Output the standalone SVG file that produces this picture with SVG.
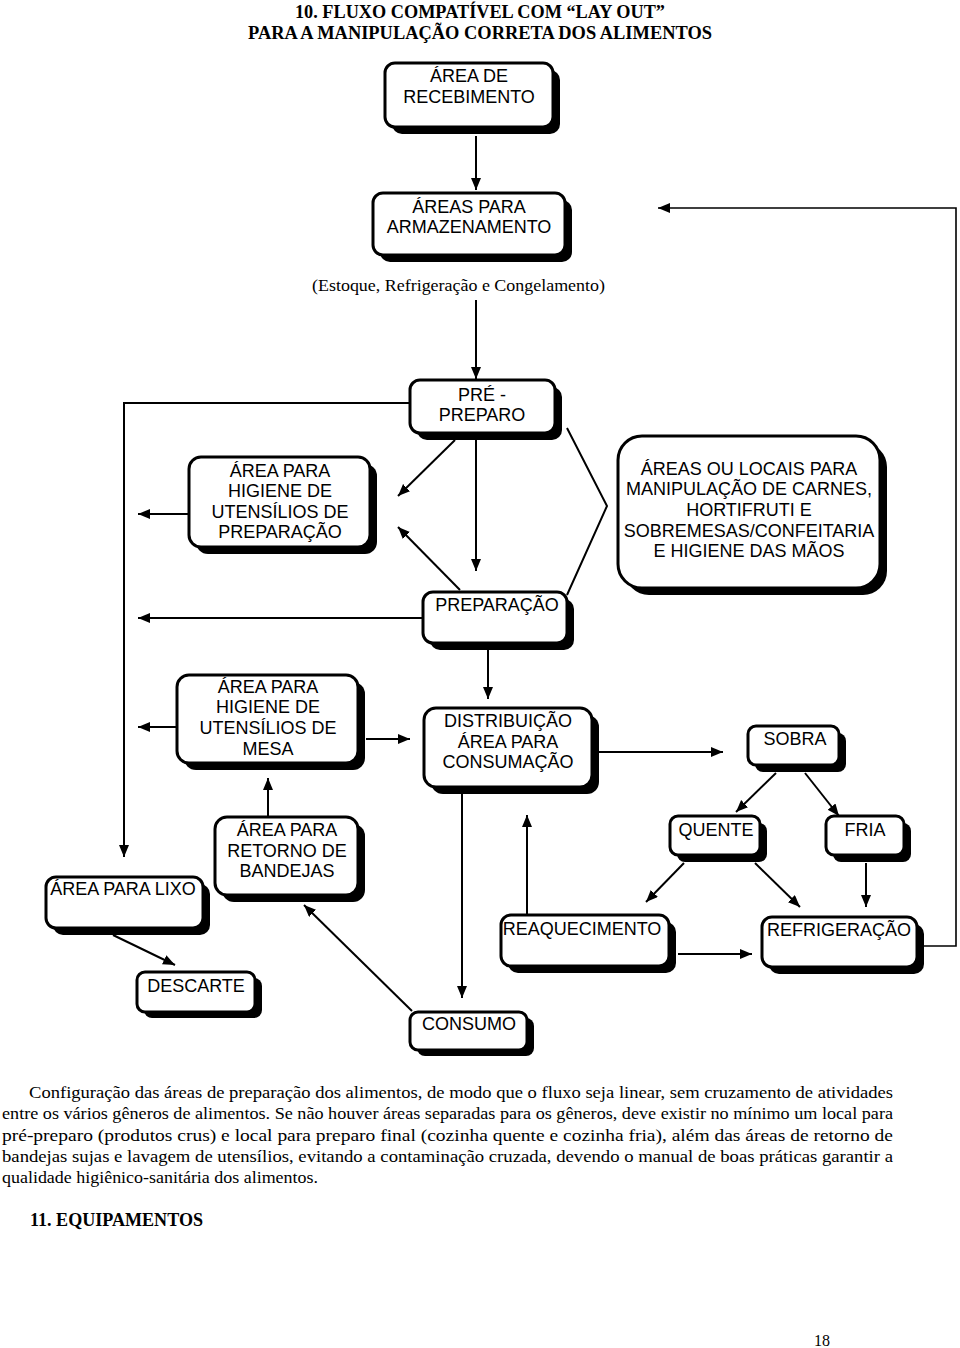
<svg xmlns="http://www.w3.org/2000/svg" width="960" height="1348" viewBox="0 0 960 1348">
<defs>
<marker id="ah" markerUnits="userSpaceOnUse" markerWidth="13" markerHeight="11" refX="12" refY="5" orient="auto">
<path d="M0,0 L12,5 L0,10 z" fill="#000"/>
</marker>
<style>
.sh{fill:#000}
.bx{fill:#fff;stroke:#000;stroke-width:3}
.t{font-family:"Liberation Sans",Arial,sans-serif;font-size:18px;fill:#000;text-anchor:middle}
.c{fill:none;stroke:#000;stroke-width:2}
.a{marker-end:url(#ah)}
.s{font-family:"Liberation Serif","Times New Roman",serif;fill:#000}
</style>
</defs>
<rect width="960" height="1348" fill="#fff"/>
<g id="title">
<text class="s" x="480" y="18" font-size="19" font-weight="bold" text-anchor="middle" textLength="370" lengthAdjust="spacingAndGlyphs">10. FLUXO COMPATÍVEL COM “LAY OUT”</text>
<text class="s" x="480" y="39" font-size="19" font-weight="bold" text-anchor="middle" textLength="464" lengthAdjust="spacingAndGlyphs">PARA A MANIPULAÇÃO CORRETA DOS ALIMENTOS</text>
</g>
<g id="connectors">
<line class="c a" x1="476" y1="136" x2="476" y2="190"/>
<line class="c a" x1="476" y1="300" x2="476" y2="379"/>
<polyline class="c a" points="410,403 124,403 124,857"/>
<line class="c a" x1="455" y1="440" x2="398" y2="496"/>
<line class="c a" x1="476" y1="440" x2="476" y2="571"/>
<line class="c a" x1="460" y1="590" x2="398" y2="527"/>
<polyline class="c" points="567,428 607,506 567,595"/>
<line class="c a" x1="189" y1="514" x2="138" y2="514"/>
<line class="c a" x1="423" y1="618" x2="138" y2="618"/>
<line class="c a" x1="177" y1="727" x2="138" y2="727"/>
<line class="c a" x1="366" y1="739" x2="410" y2="739"/>
<line class="c a" x1="488" y1="650" x2="488" y2="699"/>
<line class="c a" x1="599" y1="752" x2="723" y2="752"/>
<line class="c a" x1="776" y1="773" x2="736" y2="812"/>
<line class="c a" x1="805" y1="773" x2="839" y2="816"/>
<line class="c a" x1="684" y1="863" x2="646" y2="902"/>
<line class="c a" x1="755" y1="863" x2="800" y2="907"/>
<line class="c a" x1="866" y1="863" x2="866" y2="907"/>
<line class="c a" x1="527" y1="915" x2="527" y2="815"/>
<line class="c a" x1="678" y1="954" x2="752" y2="954"/>
<polyline class="c a" points="924,946 956,946 956,208 658,208" style="stroke-width:1.6"/>
<line class="c a" x1="462" y1="793" x2="462" y2="998"/>
<line class="c a" x1="412" y1="1011" x2="304" y2="905"/>
<line class="c a" x1="268" y1="817" x2="268" y2="778"/>
<line class="c a" x1="113" y1="935" x2="175" y2="965"/>
</g>
<g id="n-recebimento">
<rect class="sh" x="392" y="70" width="168" height="64" rx="10"/>
<rect class="bx" x="385" y="63" width="168" height="64" rx="10"/>
<text class="t" x="469" y="82">ÁREA DE</text>
<text class="t" x="469" y="103">RECEBIMENTO</text>
</g>
<g id="n-armazenamento">
<rect class="sh" x="380" y="200" width="192" height="62" rx="10"/>
<rect class="bx" x="373" y="193" width="192" height="62" rx="10"/>
<text class="t" x="469" y="213">ÁREAS PARA</text>
<text class="t" x="469" y="233">ARMAZENAMENTO</text>
</g>
<g id="n-estoque">
<text class="s" x="312" y="291" font-size="17" textLength="293" lengthAdjust="spacingAndGlyphs">(Estoque, Refrigeração e Congelamento)</text>
</g>
<g id="n-prepreparo">
<rect class="sh" x="417" y="387" width="145" height="53" rx="10"/>
<rect class="bx" x="410" y="380" width="145" height="53" rx="10"/>
<text class="t" x="482" y="401">PRÉ -</text>
<text class="t" x="482" y="421">PREPARO</text>
</g>
<g id="n-higiene-preparacao">
<rect class="sh" x="196" y="464" width="181" height="90" rx="12"/>
<rect class="bx" x="189" y="457" width="181" height="90" rx="12"/>
<text class="t" x="280" y="477">ÁREA PARA</text>
<text class="t" x="280" y="497">HIGIENE DE</text>
<text class="t" x="280" y="518">UTENSÍLIOS DE</text>
<text class="t" x="280" y="538">PREPARAÇÃO</text>
</g>
<g id="n-locais">
<rect class="sh" x="625" y="443" width="262" height="152" rx="24"/>
<rect class="bx" x="618" y="436" width="262" height="152" rx="24"/>
<text class="t" x="749" y="475">ÁREAS OU LOCAIS PARA</text>
<text class="t" x="749" y="495">MANIPULAÇÃO DE CARNES,</text>
<text class="t" x="749" y="516">HORTIFRUTI E</text>
<text class="t" x="749" y="537">SOBREMESAS/CONFEITARIA</text>
<text class="t" x="749" y="557">E HIGIENE DAS MÃOS</text>
</g>
<g id="n-preparacao">
<rect class="sh" x="430" y="599" width="144" height="51" rx="10"/>
<rect class="bx" x="423" y="592" width="144" height="51" rx="10"/>
<text class="t" x="497" y="611">PREPARAÇÃO</text>
</g>
<g id="n-higiene-mesa">
<rect class="sh" x="184" y="682" width="181" height="88" rx="12"/>
<rect class="bx" x="177" y="675" width="181" height="88" rx="12"/>
<text class="t" x="268" y="693">ÁREA PARA</text>
<text class="t" x="268" y="713">HIGIENE DE</text>
<text class="t" x="268" y="734">UTENSÍLIOS DE</text>
<text class="t" x="268" y="755">MESA</text>
</g>
<g id="n-distribuicao">
<rect class="sh" x="431" y="715" width="168" height="79" rx="12"/>
<rect class="bx" x="424" y="708" width="168" height="79" rx="12"/>
<text class="t" x="508" y="727">DISTRIBUIÇÃO</text>
<text class="t" x="508" y="748">ÁREA PARA</text>
<text class="t" x="508" y="768">CONSUMAÇÃO</text>
</g>
<g id="n-sobra">
<rect class="sh" x="755" y="733" width="91" height="39" rx="8"/>
<rect class="bx" x="748" y="726" width="91" height="39" rx="8"/>
<text class="t" x="795" y="745">SOBRA</text>
</g>
<g id="n-quente">
<rect class="sh" x="677" y="823" width="90" height="39" rx="8"/>
<rect class="bx" x="670" y="816" width="90" height="39" rx="8"/>
<text class="t" x="716" y="836">QUENTE</text>
</g>
<g id="n-fria">
<rect class="sh" x="833" y="823" width="78" height="39" rx="8"/>
<rect class="bx" x="826" y="816" width="78" height="39" rx="8"/>
<text class="t" x="865" y="836">FRIA</text>
</g>
<g id="n-retorno">
<rect class="sh" x="222" y="824" width="143" height="78" rx="12"/>
<rect class="bx" x="215" y="817" width="143" height="78" rx="12"/>
<text class="t" x="287" y="836">ÁREA PARA</text>
<text class="t" x="287" y="857">RETORNO DE</text>
<text class="t" x="287" y="877">BANDEJAS</text>
</g>
<g id="n-lixo">
<rect class="sh" x="53" y="884" width="157" height="51" rx="10"/>
<rect class="bx" x="46" y="877" width="157" height="51" rx="10"/>
<text class="t" x="123" y="895">ÁREA PARA LIXO</text>
</g>
<g id="n-reaquecimento">
<rect class="sh" x="508" y="922" width="168" height="51" rx="10"/>
<rect class="bx" x="501" y="915" width="168" height="51" rx="10"/>
<text class="t" x="582" y="935">REAQUECIMENTO</text>
</g>
<g id="n-refrigeracao">
<rect class="sh" x="769" y="924" width="155" height="50" rx="10"/>
<rect class="bx" x="762" y="917" width="155" height="50" rx="10"/>
<text class="t" x="839" y="936">REFRIGERAÇÃO</text>
</g>
<g id="n-descarte">
<rect class="sh" x="144" y="978" width="118" height="40" rx="8"/>
<rect class="bx" x="137" y="972" width="118" height="40" rx="8"/>
<text class="t" x="196" y="992">DESCARTE</text>
</g>
<g id="n-consumo">
<rect class="sh" x="417" y="1018" width="117" height="38" rx="8"/>
<rect class="bx" x="410" y="1012" width="117" height="38" rx="8"/>
<text class="t" x="469" y="1030">CONSUMO</text>
</g>
<g id="paragraph">
<text class="s" x="29" y="1098" font-size="17" textLength="864" lengthAdjust="spacingAndGlyphs">Configuração das áreas de preparação dos alimentos, de modo que o fluxo seja linear, sem cruzamento de atividades</text>
<text class="s" x="2" y="1119" font-size="17" textLength="891" lengthAdjust="spacingAndGlyphs">entre os vários gêneros de alimentos. Se não houver áreas separadas para os gêneros, deve existir no mínimo um local para</text>
<text class="s" x="2" y="1141" font-size="17" textLength="891" lengthAdjust="spacingAndGlyphs">pré-preparo (produtos crus) e local para preparo final (cozinha quente e cozinha fria), além das áreas de retorno de</text>
<text class="s" x="2" y="1162" font-size="17" textLength="891" lengthAdjust="spacingAndGlyphs">bandejas sujas e lavagem de utensílios, evitando a contaminação cruzada, devendo o manual de boas práticas garantir a</text>
<text class="s" x="2" y="1183" font-size="17" textLength="316" lengthAdjust="spacingAndGlyphs">qualidade higiênico-sanitária dos alimentos.</text>
</g>
<g id="footer">
<text class="s" x="30" y="1226" font-size="18" font-weight="bold" textLength="173" lengthAdjust="spacingAndGlyphs">11. EQUIPAMENTOS</text>
<text class="s" x="822" y="1346" font-size="16" text-anchor="middle">18</text>
</g>
</svg>
